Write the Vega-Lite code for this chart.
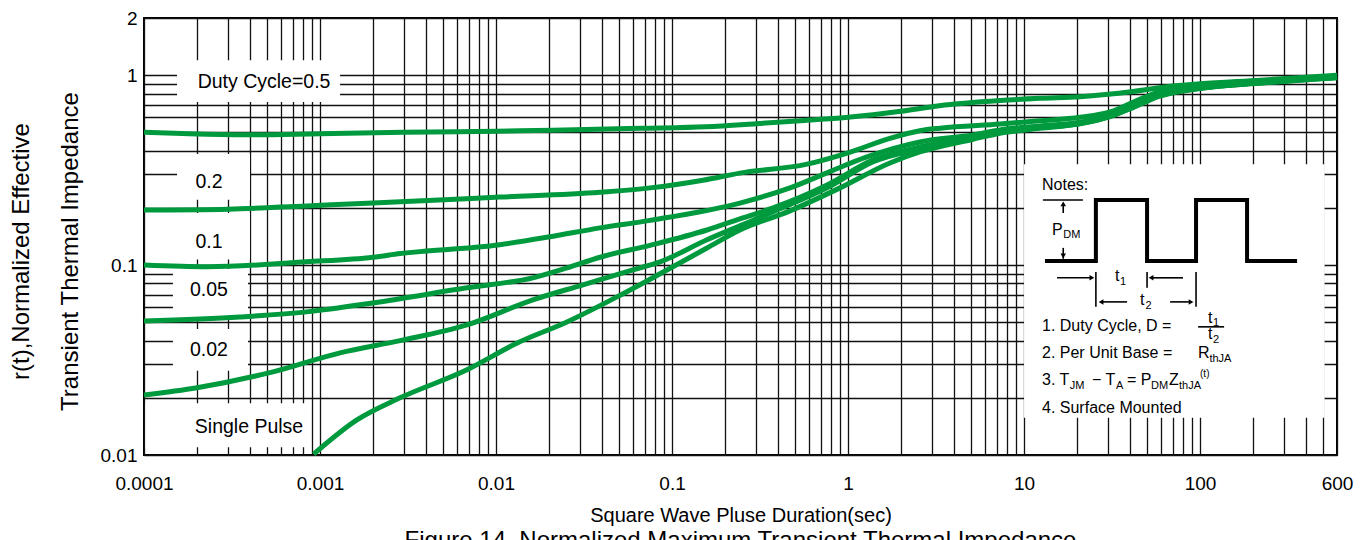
{
  "$schema": "https://vega.github.io/schema/vega-lite/v6.json",
  "width": 1193,
  "height": 437,
  "autosize": {"type": "none"},
  "padding": {"left": 144, "top": 18, "right": 30, "bottom": 85},
  "config": {
    "font": "Liberation Sans",
    "view": {"stroke": "black", "strokeWidth": 2}
  },
  "title": {
    "text": "Figure 14. Normalized Maximum Transient Thermal Impedance",
    "orient": "bottom",
    "anchor": "middle",
    "fontSize": 24,
    "fontWeight": "normal",
    "color": "black",
    "offset": 4
  },
  "datasets": {
    "curves": [
      {"series": "0.5", "x": 0.0001, "y": 0.5},
      {"series": "0.5", "x": 0.0002, "y": 0.49},
      {"series": "0.5", "x": 0.0004, "y": 0.485},
      {"series": "0.5", "x": 0.001, "y": 0.492},
      {"series": "0.5", "x": 0.003, "y": 0.5},
      {"series": "0.5", "x": 0.01, "y": 0.507},
      {"series": "0.5", "x": 0.021, "y": 0.513},
      {"series": "0.5", "x": 0.066, "y": 0.525},
      {"series": "0.5", "x": 0.156, "y": 0.535},
      {"series": "0.5", "x": 0.3, "y": 0.555},
      {"series": "0.5", "x": 0.6, "y": 0.58},
      {"series": "0.5", "x": 1.0, "y": 0.6},
      {"series": "0.5", "x": 2.0, "y": 0.645},
      {"series": "0.5", "x": 3.3, "y": 0.69},
      {"series": "0.5", "x": 7.3, "y": 0.735},
      {"series": "0.5", "x": 12.3, "y": 0.755},
      {"series": "0.5", "x": 20.8, "y": 0.77},
      {"series": "0.5", "x": 41.6, "y": 0.82},
      {"series": "0.5", "x": 65, "y": 0.87},
      {"series": "0.5", "x": 100, "y": 0.9},
      {"series": "0.5", "x": 220, "y": 0.94},
      {"series": "0.5", "x": 600, "y": 1.0},

      {"series": "0.2", "x": 0.0001, "y": 0.195},
      {"series": "0.2", "x": 0.0003, "y": 0.197},
      {"series": "0.2", "x": 0.00084, "y": 0.205},
      {"series": "0.2", "x": 0.002, "y": 0.212},
      {"series": "0.2", "x": 0.0105, "y": 0.228},
      {"series": "0.2", "x": 0.039, "y": 0.242},
      {"series": "0.2", "x": 0.075, "y": 0.255},
      {"series": "0.2", "x": 0.15, "y": 0.28},
      {"series": "0.2", "x": 0.243, "y": 0.305},
      {"series": "0.2", "x": 0.585, "y": 0.34},
      {"series": "0.2", "x": 1.0, "y": 0.39},
      {"series": "0.2", "x": 1.73, "y": 0.465},
      {"series": "0.2", "x": 2.56, "y": 0.51},
      {"series": "0.2", "x": 3.33, "y": 0.526},
      {"series": "0.2", "x": 7.3, "y": 0.553},
      {"series": "0.2", "x": 12.3, "y": 0.575},
      {"series": "0.2", "x": 20.8, "y": 0.6},
      {"series": "0.2", "x": 30.8, "y": 0.64},
      {"series": "0.2", "x": 41.6, "y": 0.72},
      {"series": "0.2", "x": 59, "y": 0.82},
      {"series": "0.2", "x": 100, "y": 0.88},
      {"series": "0.2", "x": 220, "y": 0.925},
      {"series": "0.2", "x": 600, "y": 0.99},

      {"series": "0.1", "x": 0.0001, "y": 0.1},
      {"series": "0.1", "x": 0.00023, "y": 0.098},
      {"series": "0.1", "x": 0.00084, "y": 0.104},
      {"series": "0.1", "x": 0.002, "y": 0.11},
      {"series": "0.1", "x": 0.00285, "y": 0.115},
      {"series": "0.1", "x": 0.0105, "y": 0.128},
      {"series": "0.1", "x": 0.0203, "y": 0.141},
      {"series": "0.1", "x": 0.039, "y": 0.157},
      {"series": "0.1", "x": 0.075, "y": 0.172},
      {"series": "0.1", "x": 0.243, "y": 0.212},
      {"series": "0.1", "x": 0.468, "y": 0.255},
      {"series": "0.1", "x": 0.76, "y": 0.306},
      {"series": "0.1", "x": 1.28, "y": 0.371},
      {"series": "0.1", "x": 2.56, "y": 0.445},
      {"series": "0.1", "x": 5.13, "y": 0.485},
      {"series": "0.1", "x": 7.3, "y": 0.515},
      {"series": "0.1", "x": 12.3, "y": 0.54},
      {"series": "0.1", "x": 20.8, "y": 0.565},
      {"series": "0.1", "x": 30.8, "y": 0.615},
      {"series": "0.1", "x": 41.6, "y": 0.69},
      {"series": "0.1", "x": 59, "y": 0.79},
      {"series": "0.1", "x": 100, "y": 0.86},
      {"series": "0.1", "x": 220, "y": 0.915},
      {"series": "0.1", "x": 600, "y": 0.98},

      {"series": "0.05", "x": 0.0001, "y": 0.0508},
      {"series": "0.05", "x": 0.00035, "y": 0.0533},
      {"series": "0.05", "x": 0.00084, "y": 0.0567},
      {"series": "0.05", "x": 0.002, "y": 0.0632},
      {"series": "0.05", "x": 0.00684, "y": 0.0759},
      {"series": "0.05", "x": 0.0162, "y": 0.0857},
      {"series": "0.05", "x": 0.0253, "y": 0.0966},
      {"series": "0.05", "x": 0.039, "y": 0.11},
      {"series": "0.05", "x": 0.075, "y": 0.127},
      {"series": "0.05", "x": 0.158, "y": 0.153},
      {"series": "0.05", "x": 0.243, "y": 0.175},
      {"series": "0.05", "x": 0.375, "y": 0.2},
      {"series": "0.05", "x": 0.76, "y": 0.264},
      {"series": "0.05", "x": 1.39, "y": 0.358},
      {"series": "0.05", "x": 2.56, "y": 0.419},
      {"series": "0.05", "x": 5.13, "y": 0.47},
      {"series": "0.05", "x": 7.3, "y": 0.505},
      {"series": "0.05", "x": 12.3, "y": 0.535},
      {"series": "0.05", "x": 20.8, "y": 0.56},
      {"series": "0.05", "x": 30.8, "y": 0.61},
      {"series": "0.05", "x": 41.6, "y": 0.685},
      {"series": "0.05", "x": 59, "y": 0.785},
      {"series": "0.05", "x": 100, "y": 0.855},
      {"series": "0.05", "x": 220, "y": 0.912},
      {"series": "0.05", "x": 600, "y": 0.975},

      {"series": "0.02", "x": 0.0001, "y": 0.0207},
      {"series": "0.02", "x": 0.0002, "y": 0.0226},
      {"series": "0.02", "x": 0.00054, "y": 0.0274},
      {"series": "0.02", "x": 0.0013, "y": 0.0345},
      {"series": "0.02", "x": 0.00285, "y": 0.04},
      {"series": "0.02", "x": 0.00684, "y": 0.0484},
      {"series": "0.02", "x": 0.0162, "y": 0.0656},
      {"series": "0.02", "x": 0.0312, "y": 0.0787},
      {"series": "0.02", "x": 0.06, "y": 0.0944},
      {"series": "0.02", "x": 0.0855, "y": 0.104},
      {"series": "0.02", "x": 0.158, "y": 0.136},
      {"series": "0.02", "x": 0.243, "y": 0.161},
      {"series": "0.02", "x": 0.375, "y": 0.191},
      {"series": "0.02", "x": 0.76, "y": 0.255},
      {"series": "0.02", "x": 1.39, "y": 0.35},
      {"series": "0.02", "x": 2.56, "y": 0.41},
      {"series": "0.02", "x": 5.13, "y": 0.465},
      {"series": "0.02", "x": 7.3, "y": 0.5},
      {"series": "0.02", "x": 12.3, "y": 0.53},
      {"series": "0.02", "x": 20.8, "y": 0.557},
      {"series": "0.02", "x": 30.8, "y": 0.607},
      {"series": "0.02", "x": 41.6, "y": 0.68},
      {"series": "0.02", "x": 59, "y": 0.78},
      {"series": "0.02", "x": 100, "y": 0.852},
      {"series": "0.02", "x": 220, "y": 0.91},
      {"series": "0.02", "x": 600, "y": 0.972},

      {"series": "single", "x": 0.00092, "y": 0.0101},
      {"series": "single", "x": 0.00162, "y": 0.0153},
      {"series": "single", "x": 0.00285, "y": 0.02},
      {"series": "single", "x": 0.00684, "y": 0.0281},
      {"series": "single", "x": 0.0132, "y": 0.0389},
      {"series": "single", "x": 0.0253, "y": 0.0502},
      {"series": "single", "x": 0.0487, "y": 0.068},
      {"series": "single", "x": 0.0855, "y": 0.09},
      {"series": "single", "x": 0.158, "y": 0.123},
      {"series": "single", "x": 0.243, "y": 0.153},
      {"series": "single", "x": 0.468, "y": 0.193},
      {"series": "single", "x": 0.9, "y": 0.255},
      {"series": "single", "x": 1.73, "y": 0.345},
      {"series": "single", "x": 2.56, "y": 0.394},
      {"series": "single", "x": 5.13, "y": 0.46},
      {"series": "single", "x": 7.3, "y": 0.495},
      {"series": "single", "x": 12.3, "y": 0.525},
      {"series": "single", "x": 20.8, "y": 0.555},
      {"series": "single", "x": 30.8, "y": 0.605},
      {"series": "single", "x": 41.6, "y": 0.675},
      {"series": "single", "x": 59, "y": 0.775},
      {"series": "single", "x": 100, "y": 0.85},
      {"series": "single", "x": 220, "y": 0.908},
      {"series": "single", "x": 600, "y": 0.97}
    ],
    "boxes": [
      {"x": 0.000154, "x2": 0.0013, "y": 1.2, "y2": 0.723},
      {"x": 0.000154, "x2": 0.0004, "y": 0.385, "y2": 0.221},
      {"x": 0.000146, "x2": 0.0004, "y": 0.188, "y2": 0.107},
      {"x": 0.000146, "x2": 0.00039, "y": 0.0953, "y2": 0.0528},
      {"x": 0.000146, "x2": 0.00039, "y": 0.0461, "y2": 0.0278},
      {"x": 0.000102, "x2": 0.000832, "y": 0.0187, "y2": 0.011},
      {"x": 10, "x2": 510, "y": 0.34, "y2": 0.0157}
    ],
    "plotLabels": [
      {"x": 0.000481, "y": 0.921, "label": "Duty Cycle=0.5"},
      {"x": 0.000234, "y": 0.274, "label": "0.2"},
      {"x": 0.000234, "y": 0.1325, "label": "0.1"},
      {"x": 0.000234, "y": 0.074, "label": "0.05"},
      {"x": 0.000234, "y": 0.0358, "label": "0.02"},
      {"x": 0.000395, "y": 0.01406, "label": "Single Pulse"}
    ],
    "wave": [
      {"i": 0, "x": 13.15, "y": 0.1052},
      {"i": 1, "x": 25.6, "y": 0.1052},
      {"i": 2, "x": 25.6, "y": 0.2203},
      {"i": 3, "x": 50, "y": 0.2203},
      {"i": 4, "x": 50, "y": 0.1052},
      {"i": 5, "x": 94.9, "y": 0.1052},
      {"i": 6, "x": 94.9, "y": 0.2203},
      {"i": 7, "x": 185, "y": 0.2203},
      {"i": 8, "x": 185, "y": 0.1052},
      {"i": 9, "x": 356, "y": 0.1052}
    ],
    "segments": [
      {"x": 12.8, "x2": 21.6, "y": 0.2203, "y2": 0.2203},
      {"x": 16.7, "x2": 16.7, "y": 0.2125, "y2": 0.188},
      {"x": 16.7, "x2": 16.7, "y": 0.1232, "y2": 0.108},
      {"x": 15.4, "x2": 23.7, "y": 0.0857, "y2": 0.0857},
      {"x": 25.6, "x2": 25.6, "y": 0.092, "y2": 0.0603},
      {"x": 53.3, "x2": 80, "y": 0.0857, "y2": 0.0857},
      {"x": 50, "x2": 50, "y": 0.092, "y2": 0.0759},
      {"x": 27.4, "x2": 38.5, "y": 0.064, "y2": 0.064},
      {"x": 67.6, "x2": 88.9, "y": 0.064, "y2": 0.064},
      {"x": 94.9, "x2": 94.9, "y": 0.092, "y2": 0.0603},
      {"x": 97.5, "x2": 137, "y": 0.0473, "y2": 0.0473}
    ],
    "arrowheads": [
      {"x": 16.7, "y": 0.21, "dir": "up"},
      {"x": 16.7, "y": 0.1117, "dir": "down"},
      {"x": 24.3, "y": 0.0857, "dir": "right"},
      {"x": 52.7, "y": 0.0857, "dir": "left"},
      {"x": 27.4, "y": 0.064, "dir": "left"},
      {"x": 88.9, "y": 0.064, "dir": "right"}
    ],
    "notesMain": [
      {"x": 12.65, "y": 0.264, "t": "Notes:"},
      {"x": 14.4, "y": 0.1532, "t": "P"},
      {"x": 32.9, "y": 0.0877, "t": "t"},
      {"x": 45.6, "y": 0.0656, "t": "t"},
      {"x": 12.65, "y": 0.048, "t": "1. Duty Cycle, D ="},
      {"x": 111, "y": 0.0528, "t": "t"},
      {"x": 111, "y": 0.0435, "t": "t"},
      {"x": 12.65, "y": 0.0344, "t": "2. Per Unit Base ="},
      {"x": 97.5, "y": 0.0344, "t": "R"},
      {"x": 12.65, "y": 0.0249, "t": "3. T"},
      {"x": 24.3, "y": 0.0249, "t": "− T"},
      {"x": 38.5, "y": 0.0249, "t": "= P"},
      {"x": 66.7, "y": 0.0249, "t": "Z"},
      {"x": 12.65, "y": 0.01771, "t": "4. Surface Mounted"}
    ],
    "notesSub": [
      {"x": 16.7, "y": 0.1442, "t": "DM"},
      {"x": 35.1, "y": 0.0816, "t": "1"},
      {"x": 49, "y": 0.061, "t": "2"},
      {"x": 118.6, "y": 0.0497, "t": "1"},
      {"x": 118.6, "y": 0.0404, "t": "2"},
      {"x": 113, "y": 0.0321, "t": "thJA"},
      {"x": 18.2, "y": 0.0231, "t": "JM"},
      {"x": 33.3, "y": 0.0231, "t": "A"},
      {"x": 52.7, "y": 0.0231, "t": "DM"},
      {"x": 76, "y": 0.0231, "t": "thJA"}
    ],
    "notesSup": [
      {"x": 100, "y": 0.0267, "t": "(t)"}
    ]
  },
  "encoding": {
    "x": {
      "field": "x",
      "type": "quantitative",
      "scale": {"type": "log", "domain": [0.0001, 600], "nice": false},
      "axis": {
        "values": [0.0001,0.0002,0.0003,0.0004,0.0005,0.0006,0.0007,0.0008,0.0009,
                   0.001,0.002,0.003,0.004,0.005,0.006,0.007,0.008,0.009,
                   0.01,0.02,0.03,0.04,0.05,0.06,0.07,0.08,0.09,
                   0.1,0.2,0.3,0.4,0.5,0.6,0.7,0.8,0.9,
                   1,2,3,4,5,6,7,8,9,
                   10,20,30,40,50,60,70,80,90,
                   100,200,300,400,500,600],
        "labelExpr": "indexof([0.0001,0.001,0.01,0.1,1,10,100,600], datum.value) >= 0 ? format(datum.value, '~g') : ''",
        "grid": true,
        "gridColor": "#111111",
        "gridWidth": 1.3,
        "gridOpacity": 1,
        "ticks": false,
        "tickSize": 0,
        "domain": false,
        "labelFontSize": 19,
        "labelColor": "black",
        "labelPadding": 19,
        "labelFlush": false,
        "labelOverlap": false,
        "labelBound": false,
        "title": "Square Wave Pluse Duration(sec)",
        "titleFontSize": 20,
        "titleFontWeight": "normal",
        "titleColor": "black",
        "titlePadding": 12
      }
    },
    "y": {
      "field": "y",
      "type": "quantitative",
      "scale": {"type": "log", "domain": [0.01, 2], "nice": false},
      "axis": {
        "values": [0.01,0.02,0.03,0.04,0.05,0.06,0.07,0.08,0.09,
                   0.1,0.2,0.3,0.4,0.5,0.6,0.7,0.8,0.9,1,2],
        "labelExpr": "indexof([0.01,0.1,1,2], datum.value) >= 0 ? format(datum.value, '~g') : ''",
        "grid": true,
        "gridColor": "#111111",
        "gridWidth": 1.3,
        "gridOpacity": 1,
        "ticks": false,
        "tickSize": 0,
        "domain": false,
        "labelFontSize": 19,
        "labelColor": "black",
        "labelPadding": 7,
        "labelOverlap": false,
        "labelBound": false,
        "labelFlush": false,
        "title": ["r(t),Normalized Effective", "Transient Thermal Impedance"],
        "titleFontSize": 24,
        "titleFontWeight": "normal",
        "titleColor": "black",
        "titleLineHeight": 49,
        "titlePadding": 18,
        "titleY": 233
      }
    }
  },
  "layer": [
    {
      "data": {"name": "boxes"},
      "mark": {"type": "rect", "fill": "white", "strokeWidth": 0},
      "encoding": {"x2": {"field": "x2"}, "y2": {"field": "y2"}}
    },
    {
      "data": {"name": "curves"},
      "mark": {"type": "line", "color": "#009A3E", "strokeWidth": 5, "interpolate": "monotone"},
      "encoding": {"detail": {"field": "series", "type": "nominal"}}
    },
    {
      "data": {"name": "plotLabels"},
      "mark": {"type": "text", "fontSize": 19.5, "color": "black", "align": "center", "baseline": "middle"},
      "encoding": {"text": {"field": "label"}}
    },
    {
      "data": {"name": "wave"},
      "mark": {"type": "line", "color": "black", "strokeWidth": 4, "strokeJoin": "miter"},
      "encoding": {"order": {"field": "i", "type": "quantitative"}}
    },
    {
      "data": {"name": "segments"},
      "mark": {"type": "rule", "color": "black", "strokeWidth": 1.6},
      "encoding": {"x2": {"field": "x2"}, "y2": {"field": "y2"}}
    },
    {
      "data": {"name": "arrowheads"},
      "mark": {"type": "point", "filled": true, "color": "black", "size": 30, "opacity": 1},
      "encoding": {
        "shape": {
          "field": "dir",
          "type": "nominal",
          "scale": {"domain": ["up", "down", "left", "right"], "range": ["triangle-up", "triangle-down", "triangle-left", "triangle-right"]},
          "legend": null
        }
      }
    },
    {
      "data": {"name": "notesMain"},
      "mark": {"type": "text", "fontSize": 16, "color": "black", "align": "left", "baseline": "middle"},
      "encoding": {"text": {"field": "t"}}
    },
    {
      "data": {"name": "notesSub"},
      "mark": {"type": "text", "fontSize": 11, "color": "black", "align": "left", "baseline": "middle"},
      "encoding": {"text": {"field": "t"}}
    },
    {
      "data": {"name": "notesSup"},
      "mark": {"type": "text", "fontSize": 10, "color": "black", "align": "left", "baseline": "middle"},
      "encoding": {"text": {"field": "t"}}
    }
  ]
}
